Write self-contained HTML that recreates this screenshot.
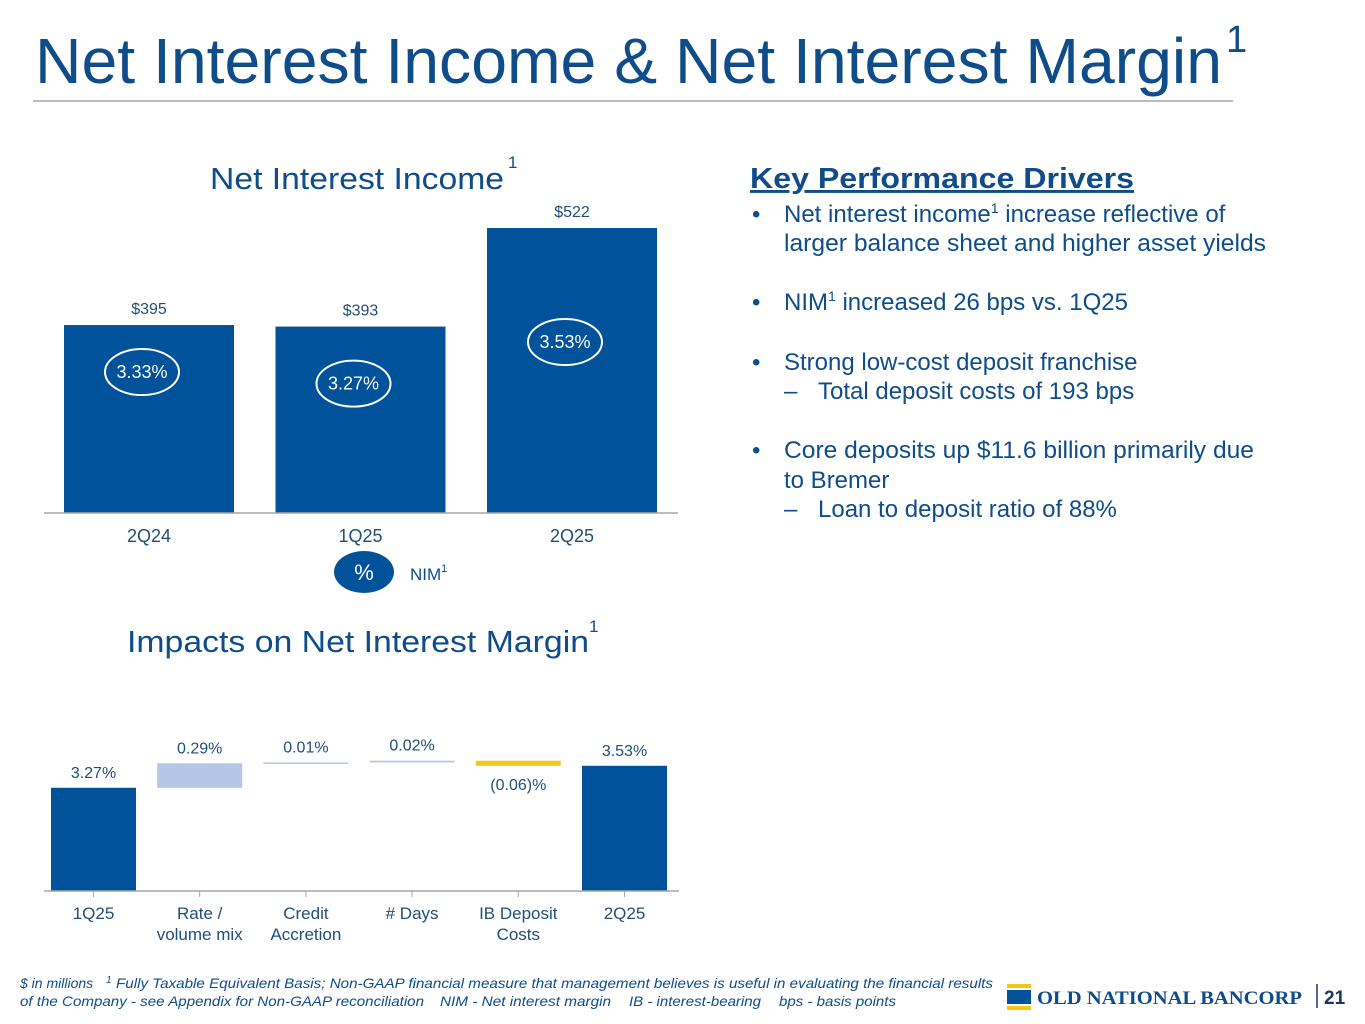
<!DOCTYPE html>
<html><head><meta charset="utf-8"><style>
body{margin:0;width:1365px;height:1024px;background:#fff;overflow:hidden;font-family:"Liberation Sans",Arial,sans-serif;}
svg{position:absolute;left:0;top:0}
.t{fill:#0e4c8a;font-family:"Liberation Sans",Arial,sans-serif}
.b{fill:#1f4e79;font-family:"Liberation Sans",Arial,sans-serif}
</style></head><body>
<svg width="1365" height="1024" viewBox="0 0 1365 1024">
<text class="t" x="35" y="83" font-size="64" textLength="1187" lengthAdjust="spacingAndGlyphs">Net Interest Income &amp; Net Interest Margin</text>
<text class="t" x="1226" y="52" font-size="38">1</text>
<line x1="33" y1="101" x2="1233" y2="101" stroke="#a6a6a6" stroke-width="1.5"/>

<text class="t" x="210" y="189" font-size="31" textLength="294" lengthAdjust="spacingAndGlyphs">Net Interest Income</text>
<text class="t" x="508" y="168" font-size="17">1</text>
<g id="nii"></g>
<line x1="44" y1="513" x2="678" y2="513" stroke="#a6a6a6" stroke-width="1.5"/>
<ellipse cx="364" cy="572" rx="30" ry="21" fill="#00529b"/>
<text x="364" y="580" font-size="22" fill="#fff" text-anchor="middle">%</text>
<text class="t" x="410" y="580" font-size="17">NIM<tspan font-size="11" dy="-8">1</tspan></text>

<text class="t" x="127" y="652" font-size="31" textLength="462" lengthAdjust="spacingAndGlyphs">Impacts on Net Interest Margin</text>
<text class="t" x="589" y="632" font-size="17">1</text>
<g id="wf"></g>
<line x1="44" y1="891" x2="679" y2="891" stroke="#a6a6a6" stroke-width="1.5"/>

<text class="t" x="750" y="188" font-size="29" font-weight="bold" text-decoration="underline" textLength="384" lengthAdjust="spacingAndGlyphs">Key Performance Drivers</text>
<g font-size="24" class="t">
<text class="t" x="752" y="222">•</text><text class="t" x="784" y="222">Net interest income<tspan font-size="14" dy="-9">1</tspan><tspan dy="9"> increase reflective of</tspan></text>
<text class="t" x="784" y="251" textLength="482" lengthAdjust="spacingAndGlyphs">larger balance sheet and higher asset yields</text>
<text class="t" x="752" y="310">•</text><text class="t" x="784" y="310">NIM<tspan font-size="14" dy="-9">1</tspan><tspan dy="9"> increased 26 bps vs. 1Q25</tspan></text>
<text class="t" x="752" y="370">•</text><text class="t" x="784" y="370">Strong low-cost deposit franchise</text>
<text class="t" x="784" y="399">–</text><text class="t" x="818" y="399">Total deposit costs of 193 bps</text>
<text class="t" x="752" y="458">•</text><text class="t" x="784" y="458" textLength="470" lengthAdjust="spacingAndGlyphs">Core deposits up $11.6 billion primarily due</text>
<text class="t" x="784" y="488">to Bremer</text>
<text class="t" x="784" y="517">–</text><text class="t" x="818" y="517">Loan to deposit ratio of 88%</text>
</g>

<g font-size="14" font-style="italic">
<text class="t" x="20" y="988">$ in millions</text>
<text class="t" x="106" y="983" font-size="10">1</text>
<text class="t" x="116" y="988" textLength="877" lengthAdjust="spacingAndGlyphs">Fully Taxable Equivalent Basis; Non-GAAP financial measure that management believes is useful in evaluating the financial results</text>
<text class="t" x="20" y="1006" textLength="404" lengthAdjust="spacingAndGlyphs">of the Company - see Appendix for Non-GAAP reconciliation</text>
<text class="t" x="440" y="1006" textLength="171" lengthAdjust="spacingAndGlyphs">NIM - Net interest margin</text>
<text class="t" x="629" y="1006" textLength="132" lengthAdjust="spacingAndGlyphs">IB - interest-bearing</text>
<text class="t" x="779" y="1006" textLength="117" lengthAdjust="spacingAndGlyphs">bps - basis points</text>
</g>
<g>
<rect x="1007" y="984" width="24" height="4" fill="#f5c518"/>
<rect x="1007" y="990" width="24" height="14" fill="#00529b"/>
<rect x="1007" y="1006" width="24" height="4" fill="#f5c518"/>
<text x="1037" y="1004" font-family="Liberation Serif,serif" font-weight="bold" font-size="19" fill="#0e4c8a" textLength="265" lengthAdjust="spacingAndGlyphs">OLD NATIONAL BANCORP</text>
</g>
<line x1="1317" y1="984" x2="1317" y2="1008" stroke="#1f3864" stroke-width="1.5"/>
<text x="1324" y="1004" font-size="19" font-weight="bold" fill="#1f3864">21</text>
</svg>
<script>
const niiCategories=["2Q24","1Q25","2Q25"];
const niiValues=[395,393,522];
const niiLabels=["$395","$393","$522"];
const nimValues=["3.33%","3.27%","3.53%"];
const wfCategories=[["1Q25"],["Rate /","volume mix"],["Credit","Accretion"],["# Days"],["IB Deposit","Costs"],["2Q25"]];
const wfValues=[3.27,0.29,0.01,0.02,-0.06,3.53];
const wfTypes=["total","delta","delta","delta","delta","total"];
const wfLabels=["3.27%","0.29%","0.01%","0.02%","(0.06)%","3.53%"];

const NS="http://www.w3.org/2000/svg";
function mk(p,tag,at){const e=document.createElementNS(NS,tag);for(const k in at)e.setAttribute(k,at[k]);p.appendChild(e);return e;}
const nii=document.getElementById('nii');
const nBase=513,nMin=149,nScale=0.764;
const yN=v=>nBase-(v-nMin)*nScale;
const xN=i=>64+i*211.5;
const ellOff=[47,57,114];
niiValues.forEach((v,i)=>{
 const r=mk(nii,'rect',{x:xN(i),y:yN(v),width:170,height:nBase-yN(v),fill:'#00529b'});
 
 
 const t=mk(nii,'text',{x:xN(i)+85,y:yN(v)-11,'text-anchor':'middle','font-size':16,class:'b'});t.textContent=niiLabels[i];
 
 
 const cy=yN(v)+ellOff[i];
 const el=mk(nii,'ellipse',{cx:xN(i)+78,cy:cy,rx:37,ry:23,fill:'none',stroke:'#fff','stroke-width':2});
 
 
 const n=mk(nii,'text',{x:xN(i)+78,y:cy+6,'text-anchor':'middle','font-size':18,fill:'#fff'});n.textContent=nimValues[i];
 
 
 const c=mk(nii,'text',{x:xN(i)+85,y:542,'text-anchor':'middle','font-size':18,class:'b'});c.textContent=niiCategories[i];
 
 
});
const wf=document.getElementById('wf');
const wBase=891,wMin=2.05,wScale=84.6;
const yW=v=>wBase-(v-wMin)*wScale;
const xW=i=>51+i*106.2;
let cum=0;
wfValues.forEach((v,i)=>{
 let top,bot,fill;
 if(wfTypes[i]==='total'){cum=v;top=yW(v);bot=wBase;fill='#00529b';}
 else{const a=cum,b=cum+v;cum=b;top=yW(Math.max(a,b));bot=yW(Math.min(a,b));fill=v<0?'#f5c518':'#b4c7e7';}
 const h=Math.max(bot-top,1.5);
 const r=mk(wf,'rect',{x:xW(i),y:top,width:85,height:h,fill:fill});
 
 
 const ly=v<0?bot+24:top-10;
 const t=mk(wf,'text',{x:xW(i)+42.5,y:ly,'text-anchor':'middle','font-size':16,class:'b'});t.textContent=wfLabels[i];
 
 
 const tk=mk(wf,'line',{x1:xW(i)+42.5,x2:xW(i)+42.5,y1:891,y2:897,stroke:'#a6a6a6'});
 
 
 wfCategories[i].forEach((s,j)=>{
  const c=mk(wf,'text',{x:xW(i)+42.5,y:919+j*21,'text-anchor':'middle','font-size':17,class:'b'});c.textContent=s;
  
  
 });
});
</script>
</body></html>
